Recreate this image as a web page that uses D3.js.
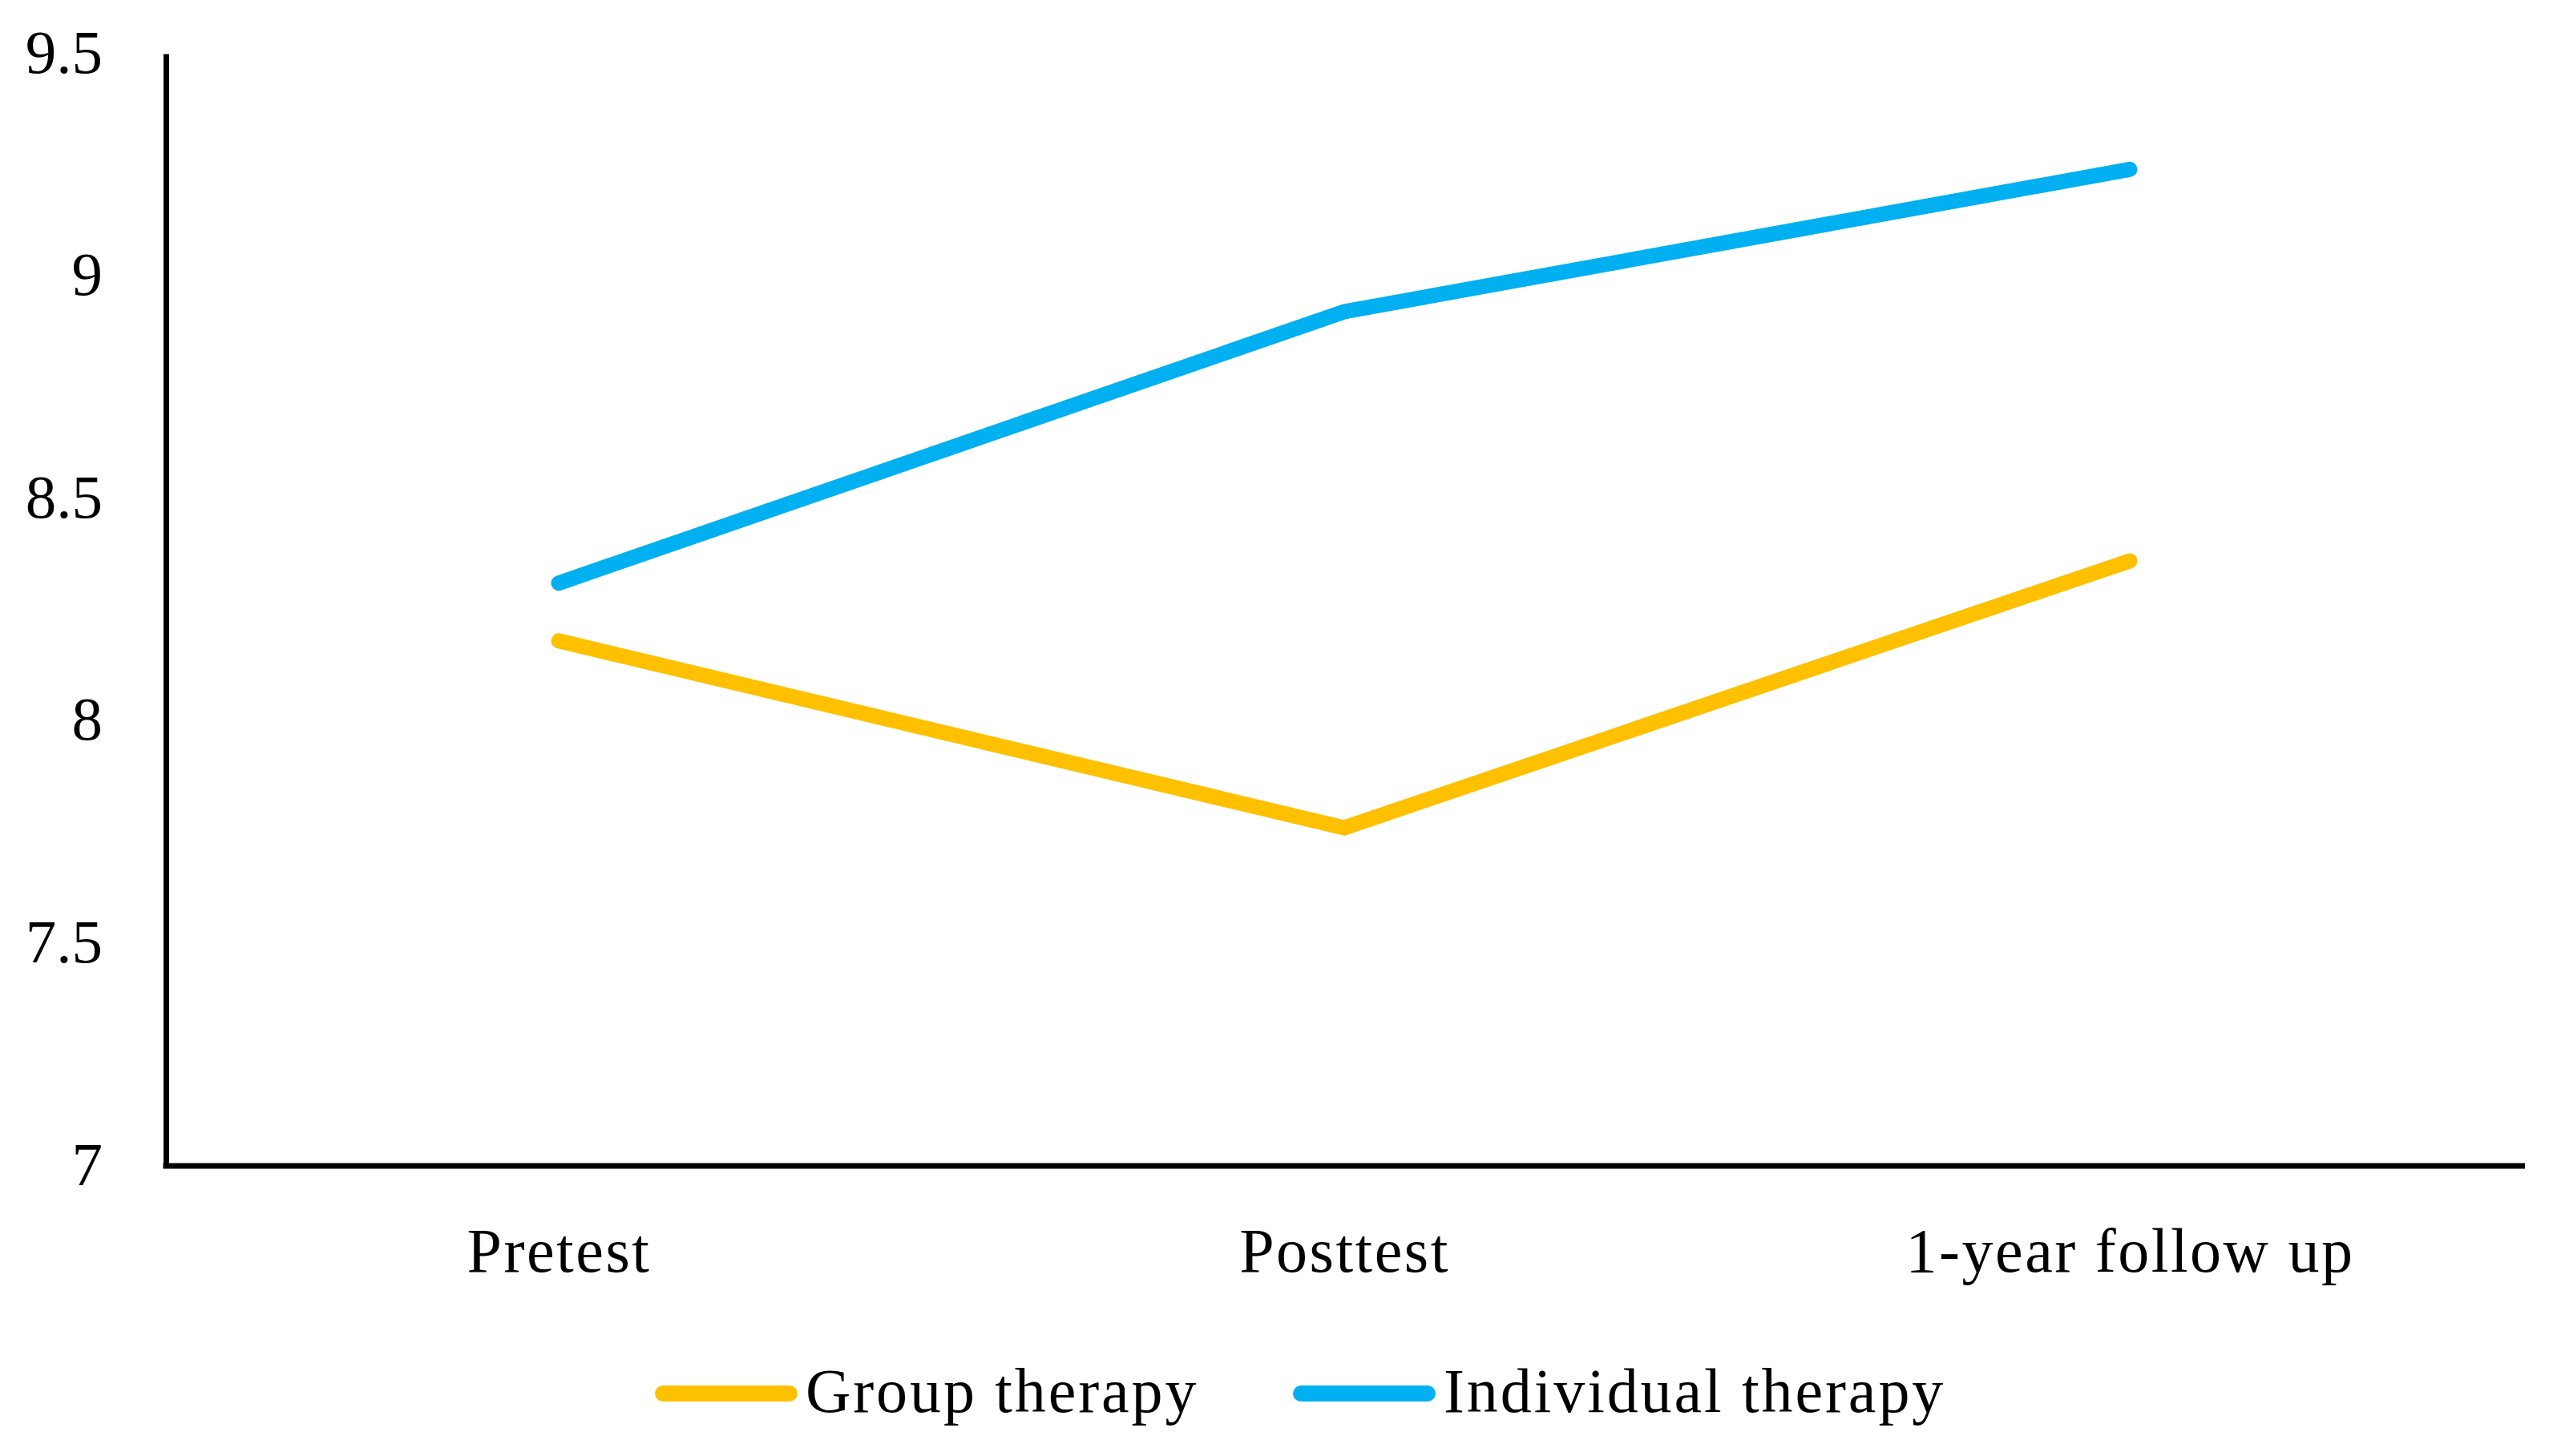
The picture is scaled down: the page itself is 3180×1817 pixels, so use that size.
<!DOCTYPE html>
<html>
<head>
<meta charset="utf-8">
<script src="https://cdn.jsdelivr.net/npm/d3@7"></script>
<style>
  html, body { margin: 0; padding: 0; background: #fff; }
  svg { display: block; }
  text { font-family: "Liberation Serif", "Times New Roman", serif; fill: #000; }
</style>
</head>
<body>
<svg id="chart" width="3180" height="1817"></svg>
<script>
// ---- data ----
const categories = ["Pretest", "Posttest", "1-year follow up"];
const seriesNames = ["Group therapy", "Individual therapy"];
const groupTherapy = [8.18, 7.76, 8.36];
const individualTherapy = [8.31, 8.92, 9.24];
const yTicks = [7, 7.5, 8, 8.5, 9, 9.5];
const seriesColors = ["#FFC000", "#00B0F0"];

const series = [
  { name: seriesNames[0], values: groupTherapy, color: seriesColors[0] },
  { name: seriesNames[1], values: individualTherapy, color: seriesColors[1] }
];

// ---- layout ----
const plotLeft = 207, plotRight = 3147, plotTop = 67, plotBottom = 1455;

const svg = d3.select("#chart");

const x = d3.scalePoint().domain(categories).range([plotLeft, plotRight]).padding(0.5);
const y = d3.scaleLinear().domain([7, 9.5]).range([plotBottom, plotTop]);

// y axis
const yAxis = svg.append("g")
  .attr("transform", `translate(${plotLeft},0)`)
  .call(d3.axisLeft(y).tickValues(yTicks).tickSize(0).tickSizeOuter(0).tickPadding(79).tickFormat(d3.format("")));
yAxis.select(".domain").attr("stroke", "#000").attr("stroke-width", 7);
yAxis.selectAll("text").attr("font-size", 77).attr("font-family", "Liberation Serif, serif").attr("dy", "0.30em");

// x axis
const xAxis = svg.append("g")
  .attr("transform", `translate(0,${plotBottom})`)
  .call(d3.axisBottom(x).tickSize(0).tickSizeOuter(0).tickPadding(77));
xAxis.select(".domain").attr("stroke", "#000").attr("stroke-width", 7)
  .attr("d", `M${plotLeft - 3.5},0H${plotRight + 3}`);
xAxis.selectAll("text").attr("font-size", 78).attr("font-family", "Liberation Serif, serif")
  .attr("letter-spacing", "2.5px");

// lines
const line = d3.line()
  .x((d, i) => x(categories[i]))
  .y(d => y(d));

svg.append("g").selectAll("path")
  .data(series)
  .join("path")
  .attr("d", d => line(d.values))
  .attr("fill", "none")
  .attr("stroke", d => d.color)
  .attr("stroke-width", 19)
  .attr("stroke-linecap", "round")
  .attr("stroke-linejoin", "miter");

// legend
const legendY = 1739;
const legendX = [817, 1613];
const lg = svg.append("g").selectAll("g")
  .data(series)
  .join("g")
  .attr("transform", (d, i) => `translate(${legendX[i]},${legendY})`);
lg.append("line")
  .attr("x1", 10).attr("x2", 168)
  .attr("y1", 0).attr("y2", 0)
  .attr("stroke", d => d.color)
  .attr("stroke-width", 20)
  .attr("stroke-linecap", "round");
lg.append("text")
  .attr("x", 188)
  .attr("y", 23)
  .attr("font-size", 78)
  .attr("letter-spacing", "2.9px")
  .text(d => d.name);
</script>
</body>
</html>
